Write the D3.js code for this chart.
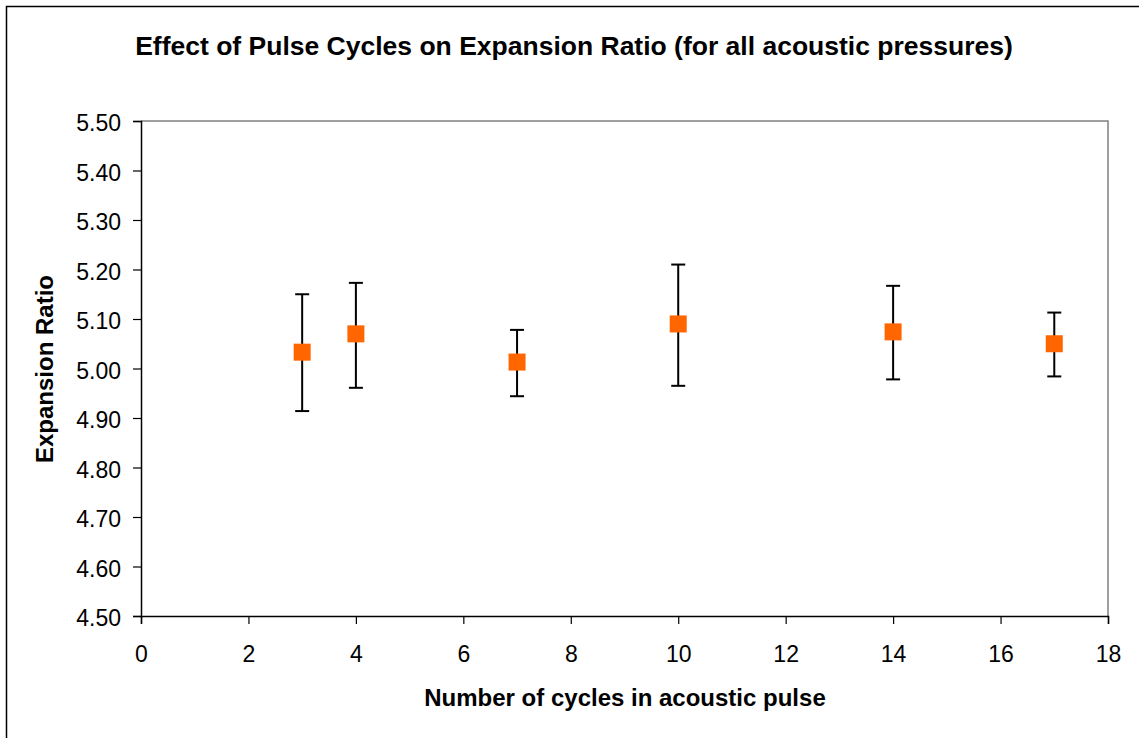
<!DOCTYPE html>
<html><head><meta charset="utf-8">
<script src="https://cdn.jsdelivr.net/npm/d3@7"></script>
<style>body{margin:0;background:#fff}svg{display:block}</style>
</head><body>
<svg id="c" width="1139" height="738"></svg>
<script>
const cycles = [3, 4, 7, 10, 14, 17];
const ratio = [5.033, 5.070, 5.013, 5.090, 5.074, 5.050];
const errHigh = [5.150, 5.173, 5.078, 5.210, 5.167, 5.113];
const errLow = [4.914, 4.961, 4.944, 4.965, 4.978, 4.984];
const xTicks = [0, 2, 4, 6, 8, 10, 12, 14, 16, 18];
const yTicks = [4.5, 4.6, 4.7, 4.8, 4.9, 5.0, 5.1, 5.2, 5.3, 5.4, 5.5];

const svg = d3.select("#c");
const L = 141, R = 1108, T = 121, B = 616;
const x = d3.scaleLinear().domain([0, 18]).range([L, R]);
const y = d3.scaleLinear().domain([4.5, 5.5]).range([B, T]);
const font = "Arial, 'Liberation Sans', sans-serif";

svg.append("rect").attr("x", 6.5).attr("y", 6.5).attr("width", 1150).attr("height", 760)
  .attr("fill", "#fff").attr("stroke", "#000").attr("stroke-width", 1.5);

svg.append("path").attr("d", `M${L},${T}H${R}V${B}`).attr("fill", "none").attr("stroke", "#808080").attr("stroke-width", 1.5);

const ya = svg.append("g").attr("transform", `translate(${L},0)`)
  .call(d3.axisLeft(y).tickValues(yTicks).tickFormat(d3.format(".2f")).tickSize(8).tickPadding(12));
const xa = svg.append("g").attr("transform", `translate(0,${B})`)
  .call(d3.axisBottom(x).tickValues(xTicks).tickSize(8).tickPadding(22));
[ya, xa].forEach(a => {
  a.select(".domain").attr("stroke", "#000").attr("stroke-width", 1.5);
  a.selectAll(".tick line").attr("stroke", "#000").attr("stroke-width", 1.2);
  a.selectAll("text").attr("font-family", font).attr("font-size", 23).attr("fill", "#000");
});
ya.selectAll("text").attr("dy", "0.42em");
xa.selectAll("text").attr("dy", "0.71em");

const g = svg.append("g");
cycles.forEach((c, i) => {
  const cx = x(c);
  g.append("line").attr("x1", cx).attr("x2", cx).attr("y1", y(errLow[i])).attr("y2", y(errHigh[i]))
    .attr("stroke", "#000").attr("stroke-width", 2);
  [errLow[i], errHigh[i]].forEach(v => {
    g.append("line").attr("x1", cx - 7).attr("x2", cx + 7).attr("y1", y(v)).attr("y2", y(v))
      .attr("stroke", "#000").attr("stroke-width", 2);
  });
});
g.selectAll("rect.m").data(cycles).enter().append("rect").attr("class", "m")
  .attr("x", d => x(d) - 8.5).attr("y", (d, i) => y(ratio[i]) - 8.5)
  .attr("width", 17).attr("height", 17).attr("fill", "#FF6600");

svg.append("text").attr("x", 574).attr("y", 55).attr("text-anchor", "middle")
  .attr("font-family", font).attr("font-weight", "bold").attr("font-size", 26.5)
  .text("Effect of Pulse Cycles on Expansion Ratio (for all acoustic pressures)");
svg.append("text").attr("x", 625).attr("y", 706).attr("text-anchor", "middle")
  .attr("font-family", font).attr("font-weight", "bold").attr("font-size", 24)
  .text("Number of cycles in acoustic pulse");
svg.append("text").attr("transform", "translate(53,369) rotate(-90)").attr("text-anchor", "middle")
  .attr("font-family", font).attr("font-weight", "bold").attr("font-size", 24)
  .text("Expansion Ratio");
</script>
</body></html>
